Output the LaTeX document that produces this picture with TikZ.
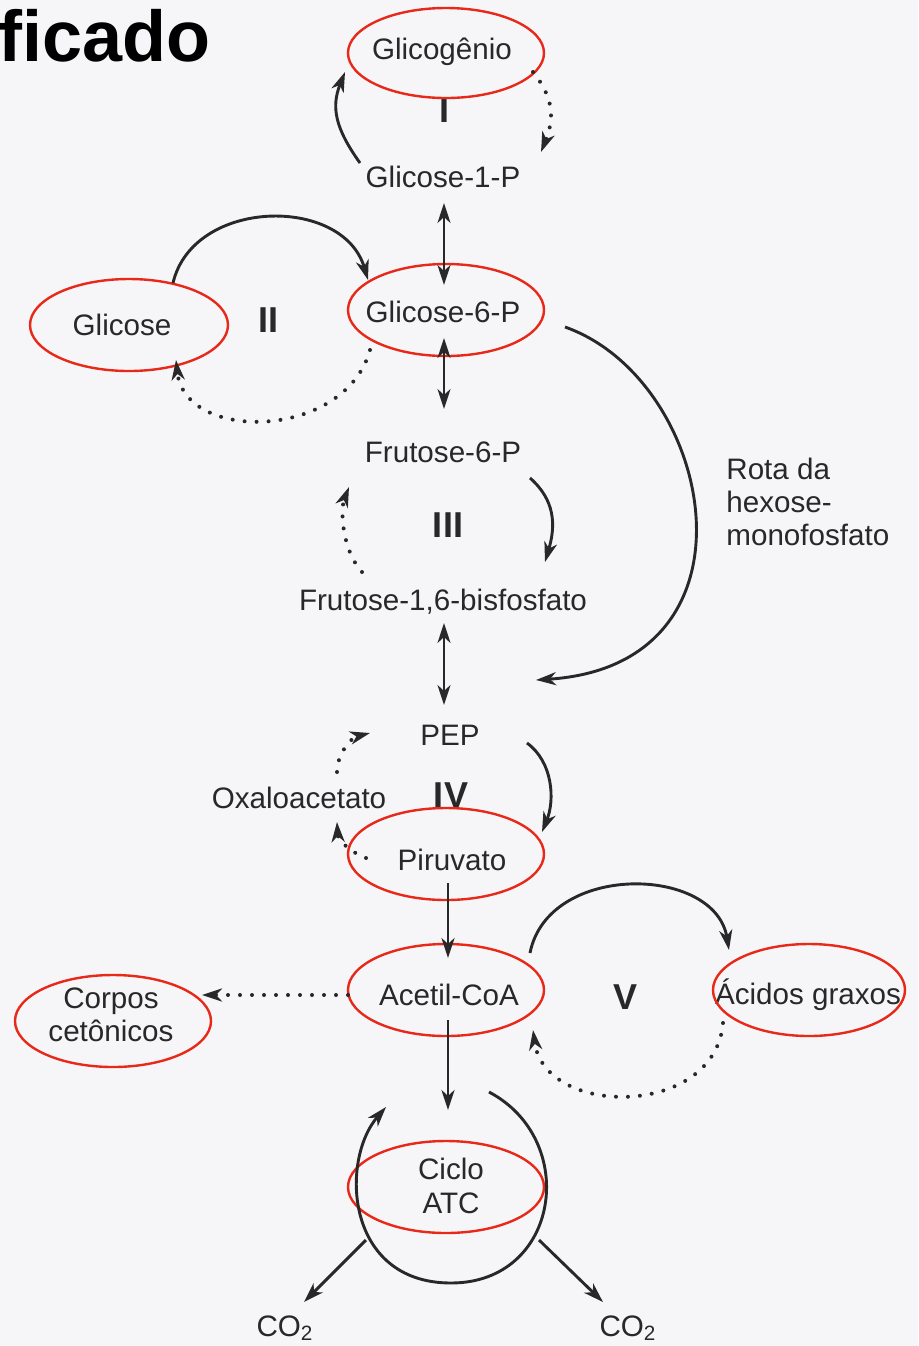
\documentclass[tikz,border=0pt]{standalone}
\usepackage{fontspec}
\setmainfont[Ligatures=CommonOff]{Liberation Sans}
\usetikzlibrary{arrows.meta,calc,positioning}
\definecolor{ink}{RGB}{40,40,40}
\definecolor{marker}{RGB}{232,40,24}
\definecolor{paper}{RGB}{246,246,248}

\begin{document}
\begin{tikzpicture}[x=0.5pt,y=-0.5pt,
		>={Stealth[length=10pt,width=6.5pt,inset=3pt]},
		lbl/.style={font=\fontsize{14.8}{16.7}\selectfont,text=ink,inner sep=1pt},
		roman/.style={font=\fontsize{18}{19}\selectfont\bfseries,text=ink,inner sep=0pt},
		redring/.style={draw=marker,line width=1.2pt},
		flow/.style={draw=ink,line width=1.45pt,->},
		both/.style={draw=ink,line width=1.25pt,<->},
		dots/.style={draw=ink,->,line width=2pt,line cap=round,dash pattern=on 0pt off 6pt}
		]
		\useasboundingbox (0,0) rectangle (918,1346);
		\fill[paper] (0,0) rectangle (918,1346);
		\node[font=\fontsize{36}{37}\selectfont\bfseries,anchor=base west,inner sep=0pt] (title) at (-2,61) {ficado};

		\node[lbl] (glicogenio) at (442,52) {Glicogênio};
		\node[lbl] (g1p) at (443,177) {Glicose-1-P};
		\node[lbl] (g6p) at (443,312) {Glicose-6-P};
		\node[lbl] (glicose) at (122,325) {Glicose};
		\node[lbl] (f6p) at (443,452) {Frutose-6-P};
		\node[lbl] (f16bp) at (443,602) {Frutose-1,6-bisfosfato};
		\node[lbl] (pep) at (450,735) {PEP};
		\node[lbl] (oxalo) at (299,798) {Oxaloacetato};
		\node[lbl] (piruvato) at (452,860) {Piruvato};
		\node[lbl] (acetil) at (449,995) {Acetil-CoA};
		\node[lbl,align=center] (corpos) at (111,1015) {Corpos\\cetônicos};
		\node[lbl] (acidos) at (808,995) {Ácidos graxos};
		\node[lbl,align=center] (ciclo) at (451,1186) {Ciclo\\ATC};
		\node[lbl,align=left,anchor=west] (rota) at (724,502) {Rota da\\hexose-\\monofosfato};
		\node[lbl] (co2l) at (285,1328) {CO\textsubscript{2}};
		\node[lbl] (co2r) at (628,1328) {CO\textsubscript{2}};

		\node[roman] (nI) at (444,110) {I};
		\node[roman] (nII) at (268,320) {II};
		\node[roman] (nIII) at (448,525) {III};
		\node[roman] (nIV) at (451,795) {IV};
		\node[roman] (nV) at (626,997) {V};

		\draw[redring] ($(glicogenio)+(4,1)$) ellipse [x radius=98, y radius=45];
		\draw[redring] ($(g6p)+(3,-2)$) ellipse [x radius=98, y radius=46];
		\draw[redring] ($(glicose)+(7,0)$) ellipse [x radius=99, y radius=46];
		\draw[redring] ($(piruvato)+(-6,-6)$) ellipse [x radius=98, y radius=46];
		\draw[redring] ($(acetil)+(-3,-5)$) ellipse [x radius=98, y radius=46];
		\draw[redring] ($(corpos)+(2,6)$) ellipse [x radius=98, y radius=46];
		\draw[redring] ($(acidos)+(1,-5)$) ellipse [x radius=96, y radius=46];
		\draw[redring] ($(ciclo)+(-5,1)$) ellipse [x radius=98, y radius=46];

		\draw[flow] ($(g1p)+(-83,-14)$) .. controls +(-25,-35) and +(-14,35) .. ($(glicogenio)+(-97,20)$);
		\draw[dots] ($(glicogenio)+(91,20)$) .. controls +(20,25) and +(14,-35) .. ($(g1p)+(98,-25)$);
		\draw[both] ($(g1p)+(1,26)$) -- ($(g6p)+(1,-27)$);
		\draw[flow] ($(glicose)+(51,-42)$) .. controls +(20,-85) and +(-25,-85) .. ($(g6p)+(-75,-32)$);
		\draw[dots] ($(g6p)+(-73,38)$) .. controls +(-25,90) and +(9,83) .. ($(glicose)+(54,35)$);
		\draw[both] ($(g6p)+(1,26)$) -- ($(f6p)+(1,-43)$);
		\draw[flow] ($(g6p)+(122,15)$) .. controls +(150,53) and +(234,-15) .. ($(f16bp)+(93,78)$);
		\draw[flow] ($(f6p)+(87,26)$) .. controls +(25,22) and +(11,-37) .. ($(f16bp)+(102,-40)$);
		\draw[dots] ($(f16bp)+(-81,-30)$) .. controls +(-20,-22) and +(-9,23) .. ($(f6p)+(-94,35)$);
		\draw[both] ($(f16bp)+(1,21)$) -- ($(pep)+(-6,-30)$);
		\draw[flow] ($(pep)+(77,8)$) .. controls +(26,19) and +(13,-32) .. ($(piruvato)+(90,-28)$);
		\draw[dots] ($(piruvato)+(-86,-2)$) .. controls +(-16,-6) and +(1,18) .. ($(oxalo)+(38,24)$);
		\draw[dots] ($(oxalo)+(38,-26)$) .. controls +(0,-17) and +(-20,5) .. ($(pep)+(-80,-2)$);
		\draw[flow] ($(piruvato)+(-4,23)$) -- ($(acetil)+(-1,-37)$);
		\draw[flow] ($(acetil)+(81,-42)$) .. controls +(18,-91) and +(-14,-85) .. ($(acidos)+(-79,-45)$);
		\draw[dots] ($(acetil)+(-101,0)$) -- ($(corpos)+(91,-20)$);
		\draw[dots] ($(acidos)+(-85,28)$) .. controls +(-8,95) and +(12,88) .. ($(acetil)+(84,35)$);
		\draw[flow] ($(acetil)+(-1,25)$) -- ($(ciclo)+(-3,-76)$);
		\draw[flow] ($(ciclo)+(38,-94)$) .. controls +(91,48) and +(109,0) .. ($(ciclo)+(0,97)$)
			.. controls +(-106,0) and +(-46,53) .. ($(ciclo)+(-65,-79)$);
		\coordinate (loopL) at ($(ciclo)+(-85,54)$);
		\coordinate (loopR) at ($(ciclo)+(88,54)$);
		\draw[flow] (loopL) -- ($(co2l)+(19,-26)$);
		\draw[flow] (loopR) -- ($(co2r)+(-25,-26)$);
\end{tikzpicture}
\end{document}
